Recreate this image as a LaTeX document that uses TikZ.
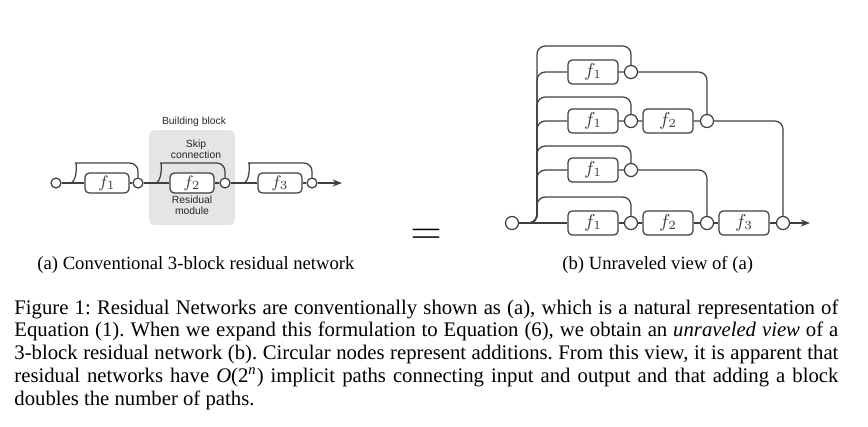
\documentclass[tikz,border=0pt]{standalone}
\usepackage{fontspec}
\setmainfont{Liberation Serif}
\setsansfont{Liberation Sans}
\usepackage{tikz}
\usetikzlibrary{arrows.meta}
\frenchspacing

\begin{document}
\begin{tikzpicture}[x=0.4824pt,y=-0.4824pt,
    line/.style={draw=black!75,line width=0.6pt},
    skip/.style={line,rounded corners=4pt},
    block/.style={line,fill=white,rounded corners=2pt,inner sep=0pt,
                  minimum width=21.2pt,minimum height=9.6pt,
                  text=black!75,font=\fontsize{8.5}{8.5}\selectfont},
    bigblock/.style={block,minimum width=24.1pt,minimum height=11.6pt,
                  font=\fontsize{9}{9}\selectfont},
    sum/.style={line,circle,fill=white,inner sep=0pt,minimum size=4.8pt},
    bigsum/.style={sum,minimum size=6.3pt},
    lbl/.style={inner sep=0pt,align=center,text=black!85,
                font=\sffamily\fontsize{5}{5.2}\selectfont},
    sub/.style={anchor=base west,inner sep=0pt,font=\fontsize{9}{10}\selectfont},
    >={Stealth[length=4.5pt,width=3.4pt]}]
\useasboundingbox (0,0) rectangle (868,426);

% (a) conventional network
\node[fill=black!10,rounded corners=2.5pt,minimum width=41.5pt,minimum height=45.8pt] (blk) at (192,177.5) {};
\node[lbl,anchor=base] (blklbl) at (194,124) {Building block};
\node[lbl] (skiplbl) at (196,149) {Skip\\connection};
\node[lbl] (reslbl) at (192,205) {Residual\\module};

\node[sum] (in) at (56,183) {};
\node[block] (fa) at (107,183) {$f_1$};
\node[sum] (pa) at (138,183) {};
\node[block] (fb) at (192,183) {$f_2$};
\node[sum] (pb) at (225,183) {};
\node[block] (fc) at (280,183) {$f_3$};
\node[sum] (pc) at (312,183) {};
\coordinate (out) at (342,183);

\coordinate (ja) at (70,183);
\coordinate (jb) at (155,183);
\coordinate (jc) at (243,183);

\draw[line] (in) -- (fa) -- (pa) -- (fb) -- (pb) -- (fc) -- (pc);
\draw[line,->] (pc) -- (out);
\draw[skip] (ja) .. controls (77,183) and (77,163) .. (84,163) -| (pa.north);
\draw[skip] (jb) .. controls (162,183) and (162,163) .. (169,163) -| (pb.north);
\draw[skip] (jc) .. controls (250,183) and (250,163) .. (257,163) -| (pc.north);

\node[font=\fontsize{20}{20}\selectfont,inner sep=0pt] (eq) at (426,237) {$=$};

% (b) unraveled view
\node[bigsum] (rin) at (512,223) {};

\node[bigblock] (u1) at (593,72) {$f_1$};
\node[bigsum] (p1) at (631,72) {};

\node[bigblock] (u2) at (593,121) {$f_1$};
\node[bigsum] (p2) at (631,121) {};
\node[bigblock] (v2) at (668,121) {$f_2$};
\node[bigsum] (q2) at (707,121) {};

\node[bigblock] (u3) at (593,170) {$f_1$};
\node[bigsum] (p3) at (631,170) {};

\node[bigblock] (u4) at (593,223) {$f_1$};
\node[bigsum] (p4) at (631,223) {};
\node[bigblock] (v4) at (668,223) {$f_2$};
\node[bigsum] (q4) at (707,223) {};
\node[bigblock] (w4) at (744,223) {$f_3$};
\node[bigsum] (o4) at (783,223) {};
\coordinate (rout) at (810,223);

\coordinate (m1) at (537,72);
\coordinate (m2) at (537,121);
\coordinate (m3) at (537,170);
\coordinate (s1) at (537,46);
\coordinate (s2) at (537,97);
\coordinate (s3) at (537,146);
\coordinate (s4) at (537,197);

\draw[skip] (rin.east) -| (s1) -| (p1.north);
\draw[skip] (rin.east) -| (m1) -- (u1) -- (p1);
\draw[skip] (p1) -| (q2.north);

\draw[skip] (rin.east) -| (s2) -| (p2.north);
\draw[skip] (rin.east) -| (m2) -- (u2) -- (p2) -- (v2) -- (q2);
\draw[skip] (q2) -| (o4.north);

\draw[skip] (rin.east) -| (s3) -| (p3.north);
\draw[skip] (rin.east) -| (m3) -- (u3) -- (p3);
\draw[skip] (p3) -| (q4.north);

\draw[skip] (rin.east) -| (s4) -| (p4.north);
\draw[line] (rin) -- (u4) -- (p4) -- (v4) -- (q4) -- (w4) -- (o4);
\draw[line,->] (o4) -- (rout);

% captions
\node[sub] (capa) at (37,269) {(a) Conventional 3-block residual network};
\node[sub] (capb) at (562,269) {(b) Unraveled view of (a)};

\node[anchor=base west,inner sep=0pt,text width=397.5pt,align=justify,
      font=\fontsize{10}{11}\selectfont] (cap) at (14,314)
  {Figure 1: Residual Networks are conventionally shown as (a), which is a natural representation of\linebreak
   Equation (1). When we expand this formulation to Equation (6), we obtain an \emph{unraveled view} of a\linebreak
   3-block residual network (b). Circular nodes represent additions. From this view, it is apparent that\linebreak
   residual networks have \textit{O}(2\textsuperscript{\textit{n}}) implicit paths connecting input and output and that adding a block\linebreak
   doubles the number of paths.};
\end{tikzpicture}
\end{document}
